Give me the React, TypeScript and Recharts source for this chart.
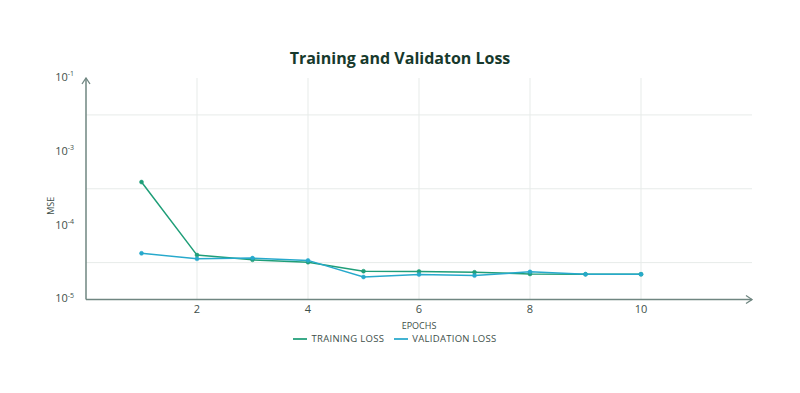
import { LineChart, Line, XAxis, YAxis, ReferenceLine, Legend } from 'recharts'

// epochs and losses (log scale)
const epochs = [1, 2, 3, 4, 5, 6, 7, 8, 9, 10]
const trainingLoss = [3.9e-4, 4.0e-5, 3.45e-5, 3.2e-5, 2.42e-5, 2.4e-5, 2.34e-5, 2.22e-5, 2.2e-5, 2.2e-5]
const validationLoss = [4.23e-5, 3.56e-5, 3.64e-5, 3.39e-5, 2.02e-5, 2.18e-5, 2.11e-5, 2.37e-5, 2.2e-5, 2.2e-5]

const xTicks = [2, 4, 6, 8, 10]
const yTicks = [1e-5, 1e-4, 1e-3, 1e-2]
const yTickExponents = ['-5', '-4', '-3', '-1']
const halfDecades = [3.1623e-5, 3.1623e-4, 3.1623e-3]

const data = epochs.map((epoch, i) => ({
	epoch,
	training: trainingLoss[i],
	validation: validationLoss[i],
}))

const AXIS = '#6f8681'
const GRID = '#e7ebe9'
const TEXT = '#3e4f4a'
const GREEN = '#1f9e78'
const BLUE = '#27a9cc'
const FONT = '"Open Sans", "Noto Sans", sans-serif'

const YTick = ({ x, y, payload }: any) => (
	<text x={x} y={y} textAnchor='end' fill={TEXT} fontSize={11} fontFamily={FONT} dominantBaseline='middle'>
		10
		<tspan fontSize={7} dy={-4}>
			{yTickExponents[payload.index]}
		</tspan>
	</text>
)

const MseLabel = ({ viewBox }: any) => {
	const cx = viewBox.x + 48
	const cy = viewBox.y + viewBox.height / 2 + 17
	return (
		<text x={cx} y={cy} transform={`rotate(-90 ${cx} ${cy})`} textAnchor='middle' fill={TEXT} fontSize={9} fontFamily={FONT}>
			MSE
		</text>
	)
}

export default function App() {
	return (
		<div style={{ position: 'absolute', left: 0, top: 0, width: 800, height: 393, background: '#fff' }}>
			<div
				style={{
					position: 'absolute',
					top: 47,
					width: 800,
					textAlign: 'center',
					fontFamily: FONT,
					fontWeight: 700,
					fontSize: 16,
					color: '#17392c',
				}}
			>
				Training and Validaton Loss
			</div>
			<LineChart width={800} height={393} data={data} margin={{ top: 78, right: 48, bottom: 49, left: 6 }}>
				<defs>
					<marker id='arrow' viewBox='0 0 8 10' refX='7' refY='5' markerWidth='8' markerHeight='10' markerUnits='userSpaceOnUse' orient='auto-start-reverse'>
						<path d='M1,1 L7,5 L1,9' fill='none' stroke={AXIS} strokeWidth={1.3} />
					</marker>
				</defs>
				{xTicks.map((v) => (
					<ReferenceLine key={'x' + v} x={v} stroke={GRID} strokeWidth={1} />
				))}
				{halfDecades.map((v) => (
					<ReferenceLine key={'y' + v} y={v} stroke={GRID} strokeWidth={1} />
				))}
				<XAxis
					type='number'
					dataKey='epoch'
					domain={[0, 12]}
					ticks={xTicks}
					tickLine={false}
					axisLine={{ stroke: AXIS, strokeWidth: 1.5, markerEnd: 'url(#arrow)' } as any}
					tick={{ fill: TEXT, fontSize: 11, fontFamily: FONT }}
					tickMargin={0}
					height={30}
					label={{ value: 'EPOCHS', position: 'insideBottom', offset: 1, fill: TEXT, fontSize: 9, fontFamily: FONT }}
				/>
				<YAxis
					scale='log'
					domain={[1e-5, 1e-2]}
					ticks={yTicks}
					allowDataOverflow
					width={80}
					tickLine={false}
					axisLine={{ stroke: AXIS, strokeWidth: 1.5, markerStart: 'url(#arrow)' } as any}
					tick={<YTick />}
					tickMargin={6}
					label={<MseLabel />}
				/>
				<Legend
					verticalAlign='bottom'
					align='center'
					iconType='plainline'
					iconSize={14}
					wrapperStyle={{ top: 332, left: 0, width: 800, fontFamily: FONT, fontSize: 9.5, letterSpacing: 0.3 }}
					formatter={(value: string) => <span style={{ color: TEXT }}>{value}</span>}
				/>
				<Line
					name='TRAINING LOSS'
					dataKey='training'
					stroke={GREEN}
					strokeWidth={1.5}
					dot={{ r: 2, fill: GREEN, stroke: GREEN, strokeWidth: 0.5 }}
					isAnimationActive={false}
				/>
				<Line
					name='VALIDATION LOSS'
					dataKey='validation'
					stroke={BLUE}
					strokeWidth={1.5}
					dot={{ r: 2, fill: BLUE, stroke: BLUE, strokeWidth: 0.5 }}
					isAnimationActive={false}
				/>
			</LineChart>
		</div>
	)
}
